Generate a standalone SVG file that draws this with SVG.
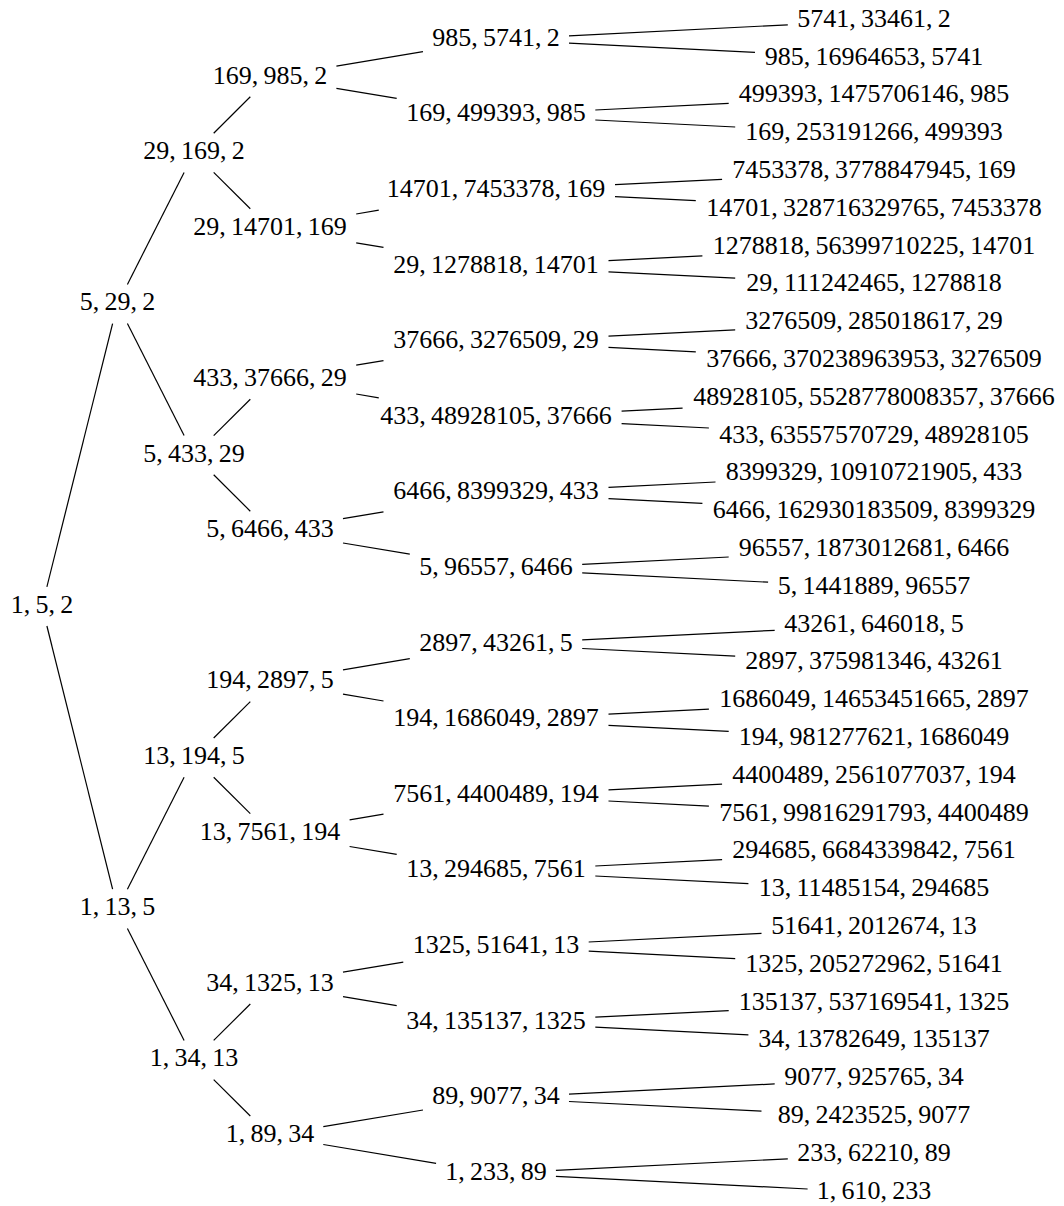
<svg xmlns="http://www.w3.org/2000/svg" width="1064" height="1206" viewBox="0 0 1064 1206">
<style>
text{font-family:"Liberation Serif","Times New Roman",serif;font-size:26px;fill:#000;text-anchor:middle;word-spacing:-1.3px}
#edges line{stroke:#000;stroke-width:1.2;fill:none}
</style>
<rect width="1064" height="1206" fill="#fff"/>
<g id="edges">
<line x1="46.9" y1="586.8" x2="112.6" y2="323.6"/>
<line x1="46.9" y1="626.0" x2="112.6" y2="889.2"/>
<line x1="127.4" y1="284.4" x2="184.1" y2="172.4"/>
<line x1="127.4" y1="323.6" x2="184.1" y2="435.6"/>
<line x1="127.4" y1="889.2" x2="184.1" y2="777.2"/>
<line x1="127.4" y1="928.4" x2="184.1" y2="1040.4"/>
<line x1="213.7" y1="133.2" x2="250.3" y2="96.8"/>
<line x1="213.7" y1="172.4" x2="250.3" y2="208.8"/>
<line x1="213.7" y1="435.6" x2="250.3" y2="399.2"/>
<line x1="213.7" y1="474.8" x2="250.3" y2="511.2"/>
<line x1="213.7" y1="738.0" x2="250.3" y2="701.6"/>
<line x1="213.7" y1="777.2" x2="250.3" y2="813.6"/>
<line x1="213.7" y1="1040.4" x2="250.3" y2="1004.0"/>
<line x1="213.7" y1="1079.6" x2="250.3" y2="1116.0"/>
<line x1="336.4" y1="66.1" x2="423.0" y2="51.6"/>
<line x1="336.4" y1="88.3" x2="396.7" y2="98.4"/>
<line x1="356.2" y1="214.0" x2="378.8" y2="210.2"/>
<line x1="356.2" y1="242.8" x2="383.5" y2="247.4"/>
<line x1="356.2" y1="365.2" x2="383.5" y2="360.6"/>
<line x1="356.2" y1="394.0" x2="378.8" y2="397.8"/>
<line x1="343.0" y1="518.6" x2="383.5" y2="511.8"/>
<line x1="343.0" y1="543.0" x2="409.8" y2="554.2"/>
<line x1="343.0" y1="669.8" x2="409.8" y2="658.6"/>
<line x1="343.0" y1="694.2" x2="383.5" y2="701.0"/>
<line x1="349.6" y1="819.9" x2="383.5" y2="814.2"/>
<line x1="349.6" y1="846.5" x2="396.7" y2="854.4"/>
<line x1="343.0" y1="972.2" x2="403.3" y2="962.1"/>
<line x1="343.0" y1="996.6" x2="396.7" y2="1005.6"/>
<line x1="323.3" y1="1126.7" x2="423.0" y2="1110.0"/>
<line x1="323.3" y1="1144.5" x2="436.1" y2="1163.4"/>
<line x1="569.0" y1="35.8" x2="787.8" y2="24.8"/>
<line x1="569.0" y1="43.1" x2="755.0" y2="52.4"/>
<line x1="595.3" y1="110.0" x2="728.7" y2="103.4"/>
<line x1="595.3" y1="120.0" x2="735.2" y2="127.0"/>
<line x1="615.0" y1="184.7" x2="722.1" y2="179.3"/>
<line x1="615.0" y1="196.6" x2="695.8" y2="200.6"/>
<line x1="608.5" y1="260.6" x2="702.4" y2="255.9"/>
<line x1="608.5" y1="271.8" x2="735.2" y2="278.2"/>
<line x1="608.5" y1="336.2" x2="735.2" y2="329.8"/>
<line x1="608.5" y1="347.4" x2="695.8" y2="351.8"/>
<line x1="621.6" y1="411.1" x2="682.6" y2="408.1"/>
<line x1="621.6" y1="423.7" x2="708.9" y2="428.0"/>
<line x1="608.5" y1="487.4" x2="715.5" y2="482.0"/>
<line x1="608.5" y1="498.6" x2="702.4" y2="503.3"/>
<line x1="582.2" y1="564.3" x2="728.7" y2="557.0"/>
<line x1="582.2" y1="572.9" x2="768.1" y2="582.2"/>
<line x1="582.2" y1="639.9" x2="774.7" y2="630.3"/>
<line x1="582.2" y1="648.5" x2="735.2" y2="656.2"/>
<line x1="608.5" y1="714.2" x2="708.9" y2="709.2"/>
<line x1="608.5" y1="725.4" x2="728.7" y2="731.4"/>
<line x1="608.5" y1="789.8" x2="722.1" y2="784.1"/>
<line x1="608.5" y1="801.0" x2="708.9" y2="806.1"/>
<line x1="595.3" y1="866.0" x2="722.1" y2="859.7"/>
<line x1="595.3" y1="876.0" x2="748.4" y2="883.6"/>
<line x1="588.7" y1="942.0" x2="761.5" y2="933.3"/>
<line x1="588.7" y1="951.2" x2="735.2" y2="958.6"/>
<line x1="595.3" y1="1017.2" x2="728.7" y2="1010.6"/>
<line x1="595.3" y1="1027.2" x2="748.4" y2="1034.8"/>
<line x1="569.0" y1="1094.2" x2="774.7" y2="1083.9"/>
<line x1="569.0" y1="1101.5" x2="761.5" y2="1111.1"/>
<line x1="555.9" y1="1170.4" x2="787.8" y2="1158.8"/>
<line x1="555.9" y1="1176.4" x2="807.6" y2="1189.0"/>
</g>
<g id="n-root"><text x="42" y="612.7">1, 5, 2</text></g>
<g id="n-a"><text x="117.5" y="310.3">5, 29, 2</text></g>
<g id="n-b"><text x="117.5" y="915.1">1, 13, 5</text></g>
<g id="n-aa"><text x="194" y="159.1">29, 169, 2</text></g>
<g id="n-ab"><text x="194" y="461.5">5, 433, 29</text></g>
<g id="n-ba"><text x="194" y="763.9">13, 194, 5</text></g>
<g id="n-bb"><text x="194" y="1066.3">1, 34, 13</text></g>
<g id="n-aaa"><text x="270" y="83.5">169, 985, 2</text></g>
<g id="n-aab"><text x="270" y="234.7">29, 14701, 169</text></g>
<g id="n-aba"><text x="270" y="385.9">433, 37666, 29</text></g>
<g id="n-abb"><text x="270" y="537.1">5, 6466, 433</text></g>
<g id="n-baa"><text x="270" y="688.3">194, 2897, 5</text></g>
<g id="n-bab"><text x="270" y="839.5">13, 7561, 194</text></g>
<g id="n-bba"><text x="270" y="990.7">34, 1325, 13</text></g>
<g id="n-bbb"><text x="270" y="1141.9">1, 89, 34</text></g>
<g id="n4-0"><text x="496" y="45.7">985, 5741, 2</text></g>
<g id="n4-1"><text x="496" y="121.3">169, 499393, 985</text></g>
<g id="n4-2"><text x="496" y="196.9">14701, 7453378, 169</text></g>
<g id="n4-3"><text x="496" y="272.5">29, 1278818, 14701</text></g>
<g id="n4-4"><text x="496" y="348.1">37666, 3276509, 29</text></g>
<g id="n4-5"><text x="496" y="423.7">433, 48928105, 37666</text></g>
<g id="n4-6"><text x="496" y="499.3">6466, 8399329, 433</text></g>
<g id="n4-7"><text x="496" y="574.9">5, 96557, 6466</text></g>
<g id="n4-8"><text x="496" y="650.5">2897, 43261, 5</text></g>
<g id="n4-9"><text x="496" y="726.1">194, 1686049, 2897</text></g>
<g id="n4-10"><text x="496" y="801.7">7561, 4400489, 194</text></g>
<g id="n4-11"><text x="496" y="877.3">13, 294685, 7561</text></g>
<g id="n4-12"><text x="496" y="952.9">1325, 51641, 13</text></g>
<g id="n4-13"><text x="496" y="1028.5">34, 135137, 1325</text></g>
<g id="n4-14"><text x="496" y="1104.1">89, 9077, 34</text></g>
<g id="n4-15"><text x="496" y="1179.7">1, 233, 89</text></g>
<g id="n5-0"><text x="874" y="26.8">5741, 33461, 2</text></g>
<g id="n5-1"><text x="874" y="64.6">985, 16964653, 5741</text></g>
<g id="n5-2"><text x="874" y="102.4">499393, 1475706146, 985</text></g>
<g id="n5-3"><text x="874" y="140.2">169, 253191266, 499393</text></g>
<g id="n5-4"><text x="874" y="178.0">7453378, 3778847945, 169</text></g>
<g id="n5-5"><text x="874" y="215.8">14701, 328716329765, 7453378</text></g>
<g id="n5-6"><text x="874" y="253.6">1278818, 56399710225, 14701</text></g>
<g id="n5-7"><text x="874" y="291.4">29, 111242465, 1278818</text></g>
<g id="n5-8"><text x="874" y="329.2">3276509, 285018617, 29</text></g>
<g id="n5-9"><text x="874" y="367.0">37666, 370238963953, 3276509</text></g>
<g id="n5-10"><text x="874" y="404.8">48928105, 5528778008357, 37666</text></g>
<g id="n5-11"><text x="874" y="442.6">433, 63557570729, 48928105</text></g>
<g id="n5-12"><text x="874" y="480.4">8399329, 10910721905, 433</text></g>
<g id="n5-13"><text x="874" y="518.2">6466, 162930183509, 8399329</text></g>
<g id="n5-14"><text x="874" y="556.0">96557, 1873012681, 6466</text></g>
<g id="n5-15"><text x="874" y="593.8">5, 1441889, 96557</text></g>
<g id="n5-16"><text x="874" y="631.6">43261, 646018, 5</text></g>
<g id="n5-17"><text x="874" y="669.4">2897, 375981346, 43261</text></g>
<g id="n5-18"><text x="874" y="707.2">1686049, 14653451665, 2897</text></g>
<g id="n5-19"><text x="874" y="745.0">194, 981277621, 1686049</text></g>
<g id="n5-20"><text x="874" y="782.8">4400489, 2561077037, 194</text></g>
<g id="n5-21"><text x="874" y="820.6">7561, 99816291793, 4400489</text></g>
<g id="n5-22"><text x="874" y="858.4">294685, 6684339842, 7561</text></g>
<g id="n5-23"><text x="874" y="896.2">13, 11485154, 294685</text></g>
<g id="n5-24"><text x="874" y="934.0">51641, 2012674, 13</text></g>
<g id="n5-25"><text x="874" y="971.8">1325, 205272962, 51641</text></g>
<g id="n5-26"><text x="874" y="1009.6">135137, 537169541, 1325</text></g>
<g id="n5-27"><text x="874" y="1047.4">34, 13782649, 135137</text></g>
<g id="n5-28"><text x="874" y="1085.2">9077, 925765, 34</text></g>
<g id="n5-29"><text x="874" y="1123.0">89, 2423525, 9077</text></g>
<g id="n5-30"><text x="874" y="1160.8">233, 62210, 89</text></g>
<g id="n5-31"><text x="874" y="1198.6">1, 610, 233</text></g>
</svg>
